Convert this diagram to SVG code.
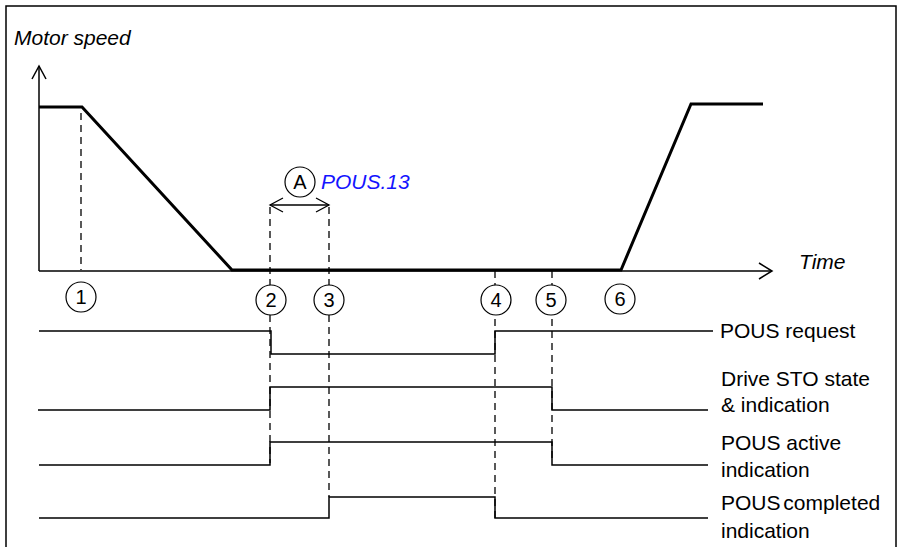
<svg xmlns="http://www.w3.org/2000/svg" width="899" height="547" viewBox="0 0 899 547">
<style>
text{font-family:"Liberation Sans",Arial,sans-serif;fill:#000}
.lbl{font-size:21px}
.it{font-style:italic;font-size:21px}
.num{font-size:20px;text-anchor:middle}
.ax{fill:none;stroke:#000;stroke-width:1.5}
.spd{fill:none;stroke:#000;stroke-width:3;stroke-linejoin:miter}
.sig{fill:none;stroke:#000;stroke-width:1.5}
.dash{fill:none;stroke:#000;stroke-width:1.3;stroke-dasharray:7 5}
.circ{fill:#fff;stroke:#000;stroke-width:1.2}
.arr{fill:none;stroke:#000;stroke-width:1.3}
</style>
<rect width="899" height="547" fill="#fff"/>
<rect x="6" y="6" width="890" height="560" fill="none" stroke="#000" stroke-width="1.5"/>

<g id="axes">
<text class="it" x="14" y="45">Motor speed</text>
<line class="ax" x1="39" y1="66" x2="39" y2="271"/>
<polyline class="ax" points="32,79 39,66 46,79"/>
<line class="ax" x1="39" y1="271" x2="772" y2="271"/>
<polyline class="ax" points="759,263 772,271 759,279"/>
<text class="it" x="799" y="269">Time</text>
</g>

<g id="connectors">
<line class="dash" x1="81" y1="113" x2="81" y2="270"/>
<line class="dash" x1="270" y1="207" x2="270" y2="463"/>
<line class="dash" x1="329" y1="207" x2="329" y2="497"/>
<line class="dash" x1="495" y1="271" x2="495" y2="518"/>
<line class="dash" x1="552" y1="271" x2="552" y2="463"/>
<line class="arr" x1="270" y1="205" x2="329" y2="205"/>
<polyline class="arr" points="283,198 270,205 283,212"/>
<polyline class="arr" points="316,198 329,205 316,212"/>
</g>

<g id="speed">
<polyline class="spd" points="39,107 82,107 232,270 621,270 691,104 763,104"/>
</g>

<g id="signals">
<polyline class="sig" points="39,331 271,331 271,354 495,354 495,331 713,331"/>
<polyline class="sig" points="38,410 270,410 270,387 552,387 552,410 708,410"/>
<polyline class="sig" points="39,465 270,465 270,442 552,442 552,465 708,465"/>
<polyline class="sig" points="39,518 329,518 329,497 495,497 495,518 708,518"/>
</g>

<g id="markerA">
<circle class="circ" cx="300" cy="182" r="15"/>
<text class="num" x="300" y="189">A</text>
<text class="it" x="321" y="189" fill="#1414ff" style="fill:#1414ff">POUS.13</text>
</g>

<g id="m1"><circle class="circ" cx="81" cy="297" r="15"/><text class="num" x="81" y="304">1</text></g>
<g id="m2"><circle class="circ" cx="271" cy="300" r="15"/><text class="num" x="271" y="307">2</text></g>
<g id="m3"><circle class="circ" cx="329" cy="300" r="15"/><text class="num" x="329" y="307">3</text></g>
<g id="m4"><circle class="circ" cx="496" cy="300" r="15"/><text class="num" x="496" y="307">4</text></g>
<g id="m5"><circle class="circ" cx="551" cy="300" r="15"/><text class="num" x="551" y="307">5</text></g>
<g id="m6"><circle class="circ" cx="620" cy="299" r="15"/><text class="num" x="620" y="306">6</text></g>

<g id="labels">
<text class="lbl" x="720" y="338">POUS request</text>
<text class="lbl" x="721" y="386">Drive STO state</text>
<text class="lbl" x="721" y="412">&amp; indication</text>
<text class="lbl" x="721" y="450">POUS active</text>
<text class="lbl" x="721" y="477">indication</text>
<text class="lbl" x="721" y="510" word-spacing="-3">POUS completed</text>
<text class="lbl" x="721" y="538">indication</text>
</g>
</svg>
